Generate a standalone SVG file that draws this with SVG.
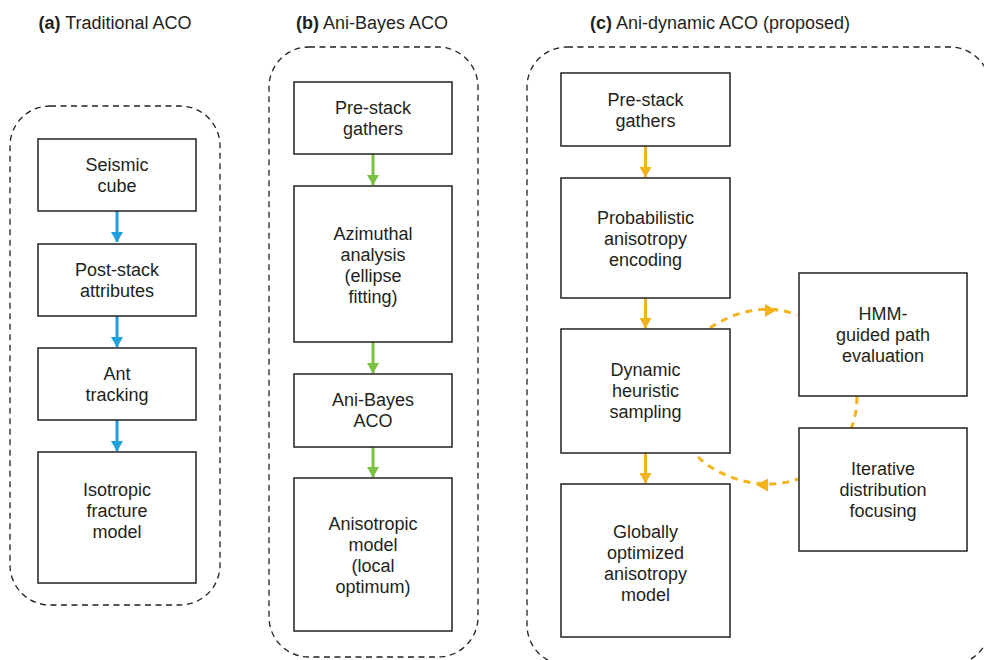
<svg xmlns="http://www.w3.org/2000/svg" width="984" height="660" viewBox="0 0 984 660">
<style>
text{font-family:"Liberation Sans",Arial,sans-serif;font-size:18px;fill:#231f20;text-anchor:middle}
.t b{font-weight:bold}
.box{fill:#fff;stroke:#231f20;stroke-width:1.5}
.panel{fill:none;stroke:#231f20;stroke-width:1.3;stroke-dasharray:6 4.5}
.blue{stroke:#1fa0dc;stroke-width:3;fill:none}
.green{stroke:#7ac143;stroke-width:3;fill:none}
.orange{stroke:#f2b31b;stroke-width:3;fill:none}
.od{stroke:#f2b31b;stroke-width:3;fill:none;stroke-dasharray:7 6}
</style>
<defs>
<marker id="ab" markerWidth="4" markerHeight="4" refX="3.3" refY="2" orient="auto" markerUnits="strokeWidth"><path d="M0,0 L3.5,2 L0,4 z" fill="#1fa0dc"/></marker>
<marker id="ag" markerWidth="4" markerHeight="4" refX="3.3" refY="2" orient="auto" markerUnits="strokeWidth"><path d="M0,0 L3.5,2 L0,4 z" fill="#7ac143"/></marker>
<marker id="ao" markerWidth="4" markerHeight="4" refX="3.3" refY="2" orient="auto" markerUnits="strokeWidth"><path d="M0,0 L3.5,2 L0,4 z" fill="#f2b31b"/></marker>
</defs>

<g id="titles">
<text x="115" y="29"><tspan font-weight="bold">(a)</tspan> Traditional ACO</text>
<text x="372" y="29"><tspan font-weight="bold">(b)</tspan> Ani-Bayes ACO</text>
<text x="720" y="29"><tspan font-weight="bold">(c)</tspan> Ani-dynamic ACO (proposed)</text>
</g>

<g id="panels">
<rect class="panel" x="10" y="106" width="210" height="499" rx="40"/>
<rect class="panel" x="269" y="47" width="209" height="610" rx="40"/>
<rect class="panel" x="527" y="47" width="463" height="618" rx="40"/>
</g>

<g id="connectors">
<line class="blue" x1="117" y1="211" x2="117" y2="242" marker-end="url(#ab)"/>
<line class="blue" x1="117" y1="316" x2="117" y2="347" marker-end="url(#ab)"/>
<line class="blue" x1="117" y1="420" x2="117" y2="451" marker-end="url(#ab)"/>
<line class="green" x1="373" y1="154" x2="373" y2="185" marker-end="url(#ag)"/>
<line class="green" x1="373" y1="342" x2="373" y2="373" marker-end="url(#ag)"/>
<line class="green" x1="373" y1="447" x2="373" y2="477" marker-end="url(#ag)"/>
<line class="orange" x1="645.5" y1="146" x2="645.5" y2="177" marker-end="url(#ao)"/>
<line class="orange" x1="645.5" y1="298" x2="645.5" y2="328" marker-end="url(#ao)"/>
<line class="orange" x1="645.5" y1="453" x2="645.5" y2="483" marker-end="url(#ao)"/>
<path class="od" d="M710,328 C735,311 768,303 797,315"/>
<path d="M765,304 L776,310.5 L765,317 z" fill="#f2b31b"/>
<path class="od" d="M857,397 Q857,414 851,429"/>
<path class="od" d="M698,457 C720,478 762,492 798,479"/>
<path d="M768,478.5 L756,485 L768,491.5 z" fill="#f2b31b"/>
</g>

<g id="a1"><rect class="box" x="38" y="139" width="158" height="72"/><text x="117" y="171">Seismic</text><text x="117" y="192">cube</text></g>
<g id="a2"><rect class="box" x="38" y="244" width="158" height="72"/><text x="117" y="276">Post-stack</text><text x="117" y="297">attributes</text></g>
<g id="a3"><rect class="box" x="38" y="348" width="158" height="72"/><text x="117" y="380">Ant</text><text x="117" y="401">tracking</text></g>
<g id="a4"><rect class="box" x="38" y="452" width="158" height="131"/><text x="117" y="496">Isotropic</text><text x="117" y="517">fracture</text><text x="117" y="538">model</text></g>

<g id="b1"><rect class="box" x="294" y="82" width="158" height="72"/><text x="373" y="114">Pre-stack</text><text x="373" y="135">gathers</text></g>
<g id="b2"><rect class="box" x="294" y="186" width="158" height="156"/><text x="373" y="240">Azimuthal</text><text x="373" y="261">analysis</text><text x="373" y="282">(ellipse</text><text x="373" y="303">fitting)</text></g>
<g id="b3"><rect class="box" x="294" y="374" width="158" height="73"/><text x="373" y="406">Ani-Bayes</text><text x="373" y="427">ACO</text></g>
<g id="b4"><rect class="box" x="294" y="478" width="158" height="153"/><text x="373" y="530">Anisotropic</text><text x="373" y="551">model</text><text x="373" y="572">(local</text><text x="373" y="593">optimum)</text></g>

<g id="c1"><rect class="box" x="561" y="73" width="169" height="73"/><text x="645.5" y="106">Pre-stack</text><text x="645.5" y="127">gathers</text></g>
<g id="c2"><rect class="box" x="561" y="178" width="169" height="120"/><text x="645.5" y="224">Probabilistic</text><text x="645.5" y="245">anisotropy</text><text x="645.5" y="266">encoding</text></g>
<g id="c3"><rect class="box" x="561" y="329" width="169" height="124"/><text x="645.5" y="376">Dynamic</text><text x="645.5" y="397">heuristic</text><text x="645.5" y="418">sampling</text></g>
<g id="c4"><rect class="box" x="561" y="484" width="169" height="153"/><text x="645.5" y="538">Globally</text><text x="645.5" y="559">optimized</text><text x="645.5" y="580">anisotropy</text><text x="645.5" y="601">model</text></g>
<g id="c5"><rect class="box" x="799" y="273" width="168" height="123"/><text x="883" y="320">HMM-</text><text x="883" y="341">guided path</text><text x="883" y="362">evaluation</text></g>
<g id="c6"><rect class="box" x="799" y="428" width="168" height="123"/><text x="883" y="475">Iterative</text><text x="883" y="496">distribution</text><text x="883" y="517">focusing</text></g>
</svg>
